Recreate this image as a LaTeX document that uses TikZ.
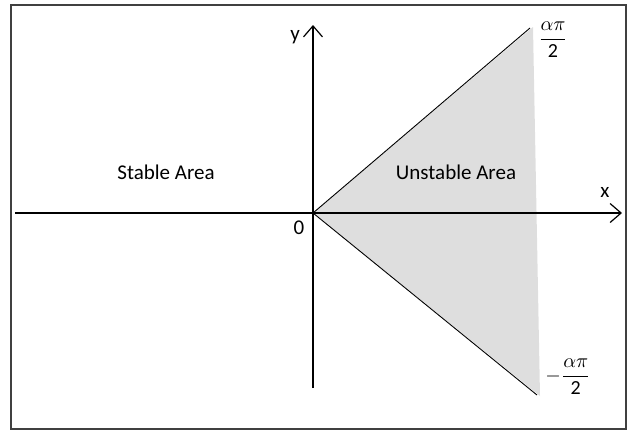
\documentclass[tikz,border=0pt]{standalone}
\usepackage{amsmath}
\usepackage{fontspec}
\setmainfont{Carlito}
\usetikzlibrary{arrows.meta}
\newcommand{\angfrac}[1]{\scalebox{2}{$#1\dfrac{\alpha\pi}{\text{2}}$}}

\begin{document}
\begin{tikzpicture}[
  x=1pt, y=-1pt,
  >={Straight Barb[length=11pt,width=19pt]},
  frame/.style={draw=black!75, line width=1.8pt},
  axis/.style={->, line width=1.2pt, black},
  edge/.style={line width=0.9pt, black},
  region/.style={fill=black!13},
  alab/.style={font=\fontsize{21}{24}\selectfont, inner sep=0pt},
  anglab/.style={font=\normalsize, inner sep=0pt}]
\useasboundingbox (0,0) rectangle (632,432);
% outer frame
\draw[frame] (11,5) rectangle (626,429);
% points of the plane
\coordinate (o) at (313,213);
\coordinate (xl) at (15,213);
\coordinate (xr) at (622,213);
\coordinate (yb) at (313,388);
\coordinate (yt) at (313,25);
\coordinate (up) at (530,28);
\coordinate (lo) at (537,395);
\coordinate (upr) at (533,27);
\coordinate (lor) at (540,396);
% unstable sector
\fill[region] (o) -- (upr) -- (lor) -- cycle;
\draw[edge] (o) -- (up);
\draw[edge] (o) -- (lo);
% axes
\draw[axis] (xl) -- (xr);
\draw[axis] (yb) -- (yt);
% labels
\node[alab] (ylab) at (295,37) {y};
\node[alab] (xlab) at (605,192) {x};
\node[alab] (zero) at (299,228) {0};
\node[alab] (stab) at (166,172) {Stable Area};
\node[alab] (unstab) at (456,172) {Unstable Area};
\node[anglab] (plus) at (553,40) {\angfrac{}};
\node[anglab] (minus) at (568,377) {\angfrac{-}};
\end{tikzpicture}
\end{document}
